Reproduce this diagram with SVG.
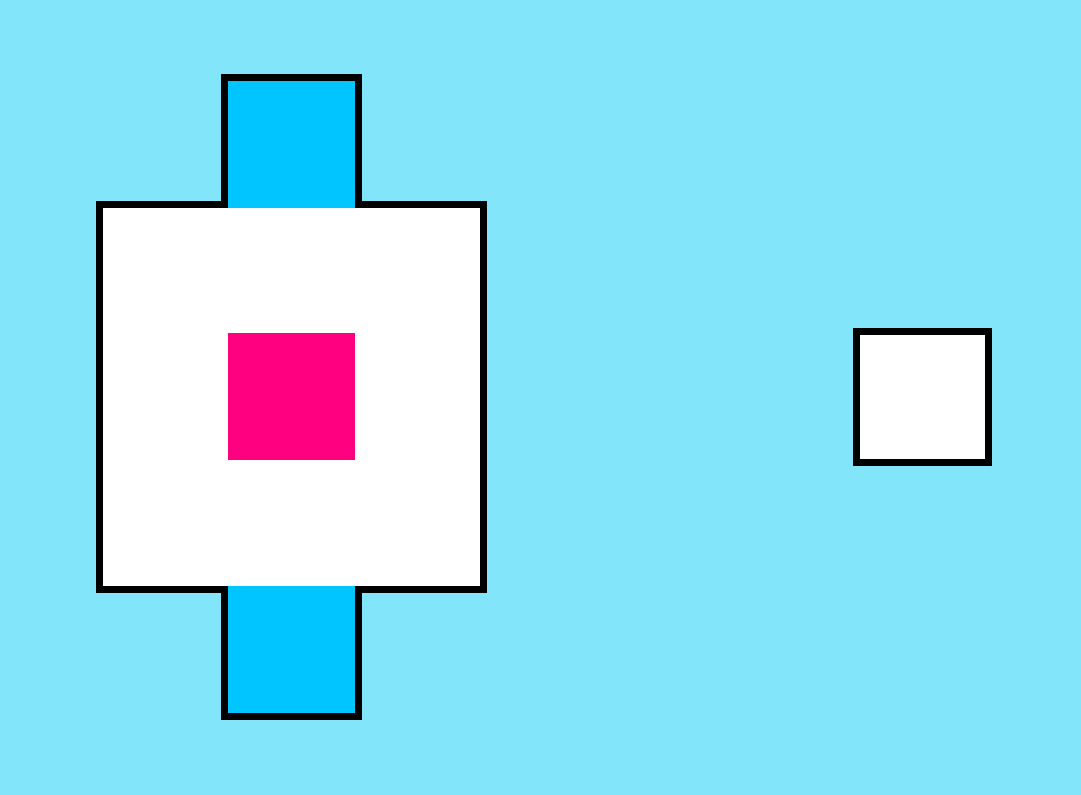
<svg xmlns="http://www.w3.org/2000/svg" width="1081" height="795" viewBox="0 0 1081 795">
<style>
.tab{fill:#00c5ff;stroke:#000;stroke-width:7}
.box{fill:#fff;stroke:#000;stroke-width:7}
</style>
<rect x="0" y="0" width="1081" height="795" fill="#82e5fa"/>
<g id="main-box"><rect class="box" x="99.5" y="204.5" width="384" height="385"/></g>
<g id="tab-top"><path class="tab" d="M224.5,208 V77.5 H358.5 V208"/></g>
<g id="tab-bottom"><path class="tab" d="M224.5,586 V716.5 H358.5 V586"/></g>
<g id="core"><rect x="228" y="333" width="127" height="127" fill="#ff0080"/></g>
<g id="small-box"><rect class="box" x="856.5" y="331.5" width="132" height="131"/></g>
<g id="connectors"></g>
</svg>
